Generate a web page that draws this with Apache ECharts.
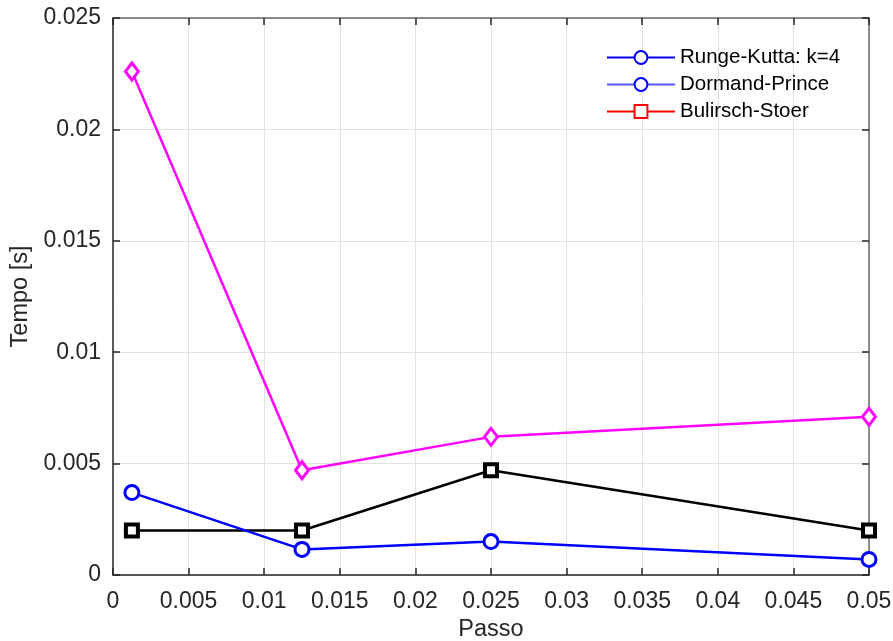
<!DOCTYPE html>
<html>
<head>
<meta charset="utf-8">
<script src="https://cdn.jsdelivr.net/npm/echarts@6/dist/echarts.min.js"></script>
<style>
html, body { margin: 0; padding: 0; background: #fff; }
#chart { width: 893px; height: 641px; }
</style>
</head>
<body>
<div id="chart"></div>
<script>
var passo = [0.00125, 0.0125, 0.025, 0.05];
var tempoMagenta = [0.0226, 0.0047, 0.0062, 0.0071];
var tempoPreto = [0.002, 0.002, 0.0047, 0.002];
var tempoAzul = [0.0037, 0.00115, 0.0015, 0.0007];
var legendNames = ['Runge-Kutta: k=4', 'Dormand-Prince', 'Bulirsch-Stoer'];
var xLabel = 'Passo';
var yLabel = 'Tempo [s]';

window.onload = function () {
    var chart = echarts.init(document.getElementById('chart'));
    var font = 'Liberation Sans, Arial, Helvetica, sans-serif';

    function pares(ys) {
        return passo.map(function (x, i) { return [x, ys[i]]; });
    }

    function eixo(pos, show, isX) {
        var a = {
            type: 'value',
            position: pos,
            min: 0,
            max: isX ? 0.05 : 0.025,
            interval: 0.005,
            axisLine: { show: true, onZero: false, lineStyle: { color: show ? '#262626' : '#6a6a6a', width: 1.5 } },
            axisTick: { show: true, inside: true, length: 7, lineStyle: { color: '#262626', width: 1.5 } },
            axisLabel: { show: show, color: '#262626', fontSize: 23, fontFamily: font, margin: isX ? 15 : 12 },
            splitLine: { show: show, lineStyle: { color: '#e2e2e2', width: 1 } }
        };
        if (show) {
            a.name = isX ? xLabel : yLabel;
            a.nameLocation = 'middle';
            a.nameGap = isX ? 43 : 74;
            a.nameTextStyle = { color: '#262626', fontSize: 23.5, fontFamily: font };
        }
        return a;
    }

    function entrada(nome, simbolo, corLinha, larg, corMarca) {
        return {
            name: nome, type: 'line', symbol: simbolo, data: [],
            color: corLinha,
            lineStyle: { color: corLinha, width: larg },
            itemStyle: { color: '#fff', borderColor: corMarca, borderWidth: 1.6 }
        };
    }

    var option = {
        animation: false,
        grid: { left: 113, right: 24, top: 18, bottom: 66, outerBoundsMode: 'none' },
        xAxis: [eixo('bottom', true, true), eixo('top', false, true)],
        yAxis: [eixo('left', true, false), eixo('right', false, false)],
        legend: {
            orient: 'vertical',
            left: 601,
            top: 42,
            itemWidth: 68,
            itemHeight: 16,
            itemGap: 6,
            itemTextGap: 8,
            selectedMode: false,
            textStyle: { color: '#000', fontSize: 20.5, fontFamily: font },
            data: legendNames
        },
        series: [
            entrada(legendNames[0], 'circle', '#0000ff', 1.2, '#0000ff'),
            entrada(legendNames[1], 'circle', '#5a5aff', 2.2, '#0000ff'),
            entrada(legendNames[2], 'rect', '#ff0000', 1.5, '#ff0000'),
            {
                name: 'magenta', type: 'line', data: pares(tempoMagenta), clip: false,
                symbol: 'diamond', symbolSize: [13, 17],
                lineStyle: { color: '#ff00ff', width: 2.5 },
                itemStyle: { color: '#fff', borderColor: '#ff00ff', borderWidth: 3 }
            },
            {
                name: 'preto', type: 'line', data: pares(tempoPreto), clip: false,
                symbol: 'rect', symbolSize: 12,
                lineStyle: { color: '#000', width: 2.5 },
                itemStyle: { color: '#fff', borderColor: '#000', borderWidth: 4 }
            },
            {
                name: 'azul', type: 'line', data: pares(tempoAzul), clip: false,
                symbol: 'circle', symbolSize: 14,
                lineStyle: { color: '#0000ff', width: 2.5 },
                itemStyle: { color: '#fff', borderColor: '#0000ff', borderWidth: 3 }
            }
        ]
    };

    chart.setOption(option);
};
</script>
</body>
</html>
